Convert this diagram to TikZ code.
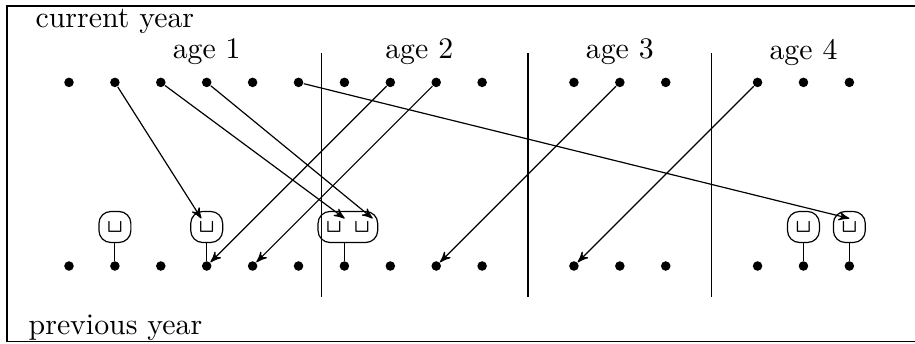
\documentclass[tikz,border=0pt]{standalone}
\usepackage{tikz}
\usetikzlibrary{positioning,fit,arrows}
\tikzset{
  dot/.style   = {circle, fill=black, inner sep=0pt, minimum size=3.2pt},
  spc/.style   = {inner sep=0.8pt, font=\ttfamily},
  blank/.style = {draw, rounded corners=4pt, inner sep=0pt,
                  minimum width=10.7pt, minimum height=10.4pt},
  edge/.style  = {->, >=stealth', thin},
  link/.style  = {thin},
  wall/.style  = {thin},
  lbl/.style   = {inner sep=0pt}
}

\begin{document}
\begin{tikzpicture}[x=0.541cm, y=0.541cm]
  \useasboundingbox (-1.503,-1.678) rectangle (18.43,5.795);
  \draw[semithick] (18.43,5.664) -- (-1.35,5.664) -- (-1.35,-1.645) -- (18.43,-1.645);

  % the two years
  \node[lbl, anchor=west] (cur)  at (-0.74,5.33)  {current year};
  \node[lbl, anchor=west] (prev) at (-0.89,-1.34) {previous year};
  \node[lbl] (A1) at (3,4.66)     {age 1};
  \node[lbl] (A2) at (7.63,4.66)  {age 2};
  \node[lbl] (A3) at (12,4.66)    {age 3};
  \node[lbl] (A4) at (16,4.66)    {age 4};
  \foreach \s in {5.5,10,14}
    \draw[wall] (\s,-0.675) -- (\s,4.64);

  % dots: c = current year, p = previous year
  \foreach \x in {0,...,9,11,12,13,15,16,17} {
    \node[dot] (c\x) at (\x,4) {};
    \node[dot] (p\x) at (\x,0) {};
  }

  % blanks
  \node[spc] (u1)  at (1,0.85)    {\textvisiblespace};
  \node[spc] (u3)  at (3,0.85)    {\textvisiblespace};
  \node[spc] (u6a) at (5.77,0.85) {\textvisiblespace};
  \node[spc] (u6b) at (6.38,0.85) {\textvisiblespace};
  \node[spc] (u16) at (16,0.85)   {\textvisiblespace};
  \node[spc] (u17) at (17,0.85)   {\textvisiblespace};
  \node[blank, fit=(u1)]  (B1)  {};
  \node[blank, fit=(u3)]  (B3)  {};
  \node[blank, fit=(u6a)(u6b), minimum width=20pt] (B6) {};
  \node[blank, fit=(u16)] (B16) {};
  \node[blank, fit=(u17)] (B17) {};
  \draw[link] (p1) -- (B1);
  \draw[link] (p3) -- (B3);
  \draw[link] (p6) -- (p6 |- B6.south);
  \draw[link] (p16) -- (B16);
  \draw[link] (p17) -- (B17);

  \draw[edge] (c1) -- (u3);
  \draw[edge] (c2) -- (u6a.north east);
  \draw[edge] (c3) -- (u6b.north east);
  \draw[edge] (c5) -- (u17.north);
  \draw[edge] (c7) -- (p3);
  \draw[edge] (c8) -- (p4);
  \draw[edge] (c12) -- (p8);
  \draw[edge] (c15) -- (p11);
\end{tikzpicture}
\end{document}
